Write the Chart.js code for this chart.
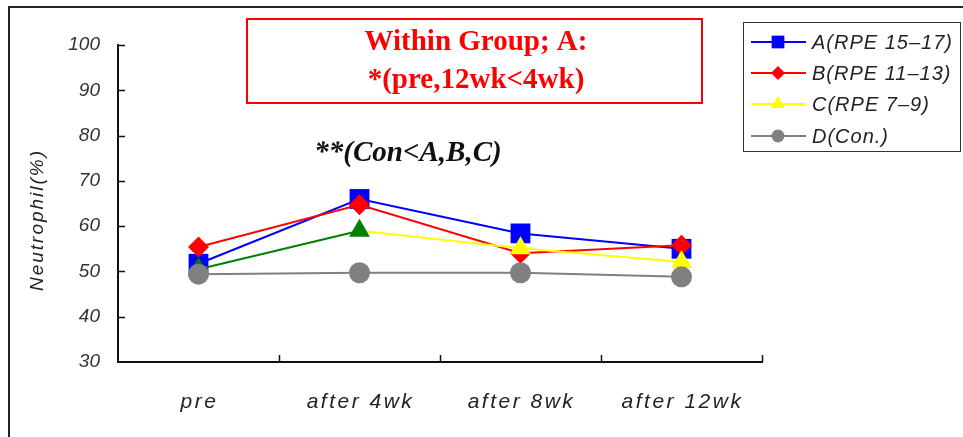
<!DOCTYPE html>
<html>
<head>
<meta charset="utf-8">
<script src="https://cdn.jsdelivr.net/npm/chart.js@4.4.1/dist/chart.umd.min.js"></script>
<style>
  html, body { margin: 0; padding: 0; background: #fff; }
  #wrap { position: relative; width: 963px; height: 437px; }
  #frame { position: absolute; left: 8px; top: 6px; right: 0; bottom: 0;
           border-top: 2px solid #222; border-left: 2px solid #222; pointer-events: none; }
  canvas { position: absolute; left: 0; top: 0; }
</style>
</head>
<body>
<div id="wrap">
  <canvas id="grafico" width="963" height="437"></canvas>
  <div id="frame"></div>
</div>
<script>
// periodos de coleta
const periodos = ['pre', 'after 4wk', 'after 8wk', 'after 12wk'];
// neutrofilos (%) por grupo
const grupoA = [51.7, 66.0, 58.4, 55.0];
const grupoB = [55.4, 64.7, 54.0, 55.8];
const grupoC = [50.5, 59.0, 55.1, 52.1];
const grupoD = [49.4, 49.7, 49.7, 48.8];
const nomesGrupos = ['A(RPE 15–17)', 'B(RPE 11–13)', 'C(RPE 7–9)', 'D(Con.)'];
const ticksY = [30, 40, 50, 60, 70, 80, 90, 100];
const tituloLinhas = ['Within Group; A:', '*(pre,12wk<4wk)'];
const notaControle = '**(Con<A,B,C)';
const tituloEixoY = 'Neutrophil(%)';

const azul = '#0000ff', vermelho = '#ff0000', amarelo = '#ffff00', verde = '#008000', cinza = '#808080';

// estilo de cada serie na legenda: cor da linha, marcador, raio
const estilosLegenda = [
  { cor: azul, marcador: 'rect', raio: 9 },
  { cor: vermelho, marcador: 'rectRot', raio: 7 },
  { cor: amarelo, marcador: 'triangle', raio: 8 },
  { cor: cinza, marcador: 'circle', raio: 6.5 }
];

const desenhoExtra = {
  id: 'desenhoExtra',
  afterDraw(chart) {
    const ctx = chart.ctx;
    const area = chart.chartArea;
    const x = chart.scales.x, y = chart.scales.y;
    ctx.save();

    // eixos
    ctx.strokeStyle = '#111';
    ctx.lineWidth = 2;
    ctx.beginPath();
    ctx.moveTo(area.left, y.getPixelForValue(100) - 1);
    ctx.lineTo(area.left, area.bottom);
    ctx.lineTo(area.right + 1, area.bottom);
    ctx.stroke();

    ctx.lineWidth = 1.5;
    ctx.beginPath();
    ticksY.slice(1).forEach(v => {
      const py = Math.round(y.getPixelForValue(v)) + 0.5;
      ctx.moveTo(area.left, py);
      ctx.lineTo(area.left + 7, py);
    });
    for (let i = 0; i < periodos.length; i++) {
      const px = i < periodos.length - 1
        ? (x.getPixelForTick(i) + x.getPixelForTick(i + 1)) / 2
        : area.right;
      ctx.moveTo(Math.round(px) + 0.5, area.bottom);
      ctx.lineTo(Math.round(px) + 0.5, area.bottom - 7);
    }
    ctx.stroke();

    // rotulos do eixo x
    ctx.fillStyle = '#222';
    ctx.font = 'italic 21px "Liberation Sans", Arial, sans-serif';
    ctx.letterSpacing = '2.5px';
    ctx.textAlign = 'center';
    ctx.textBaseline = 'alphabetic';
    periodos.forEach((p, i) => ctx.fillText(p, x.getPixelForTick(i) + 1, 408));

    // titulo do eixo y
    ctx.save();
    ctx.translate(36, 220);
    ctx.rotate(-Math.PI / 2);
    ctx.font = 'italic 19px "Liberation Sans", Arial, sans-serif';
    ctx.letterSpacing = '2px';
    ctx.fillText(tituloEixoY, 0, 7);
    ctx.restore();
    ctx.letterSpacing = '0px';

    // caixa do titulo
    ctx.fillStyle = '#fff';
    ctx.fillRect(247, 19, 455, 84);
    ctx.strokeStyle = '#ff0000';
    ctx.lineWidth = 2;
    ctx.strokeRect(247, 19, 455, 84);
    ctx.fillStyle = '#ff0000';
    ctx.font = 'bold 29px "Liberation Serif", "Times New Roman", serif';
    ctx.fillText(tituloLinhas[0], 476, 50);
    ctx.fillText(tituloLinhas[1], 476, 88);

    // nota de comparacao com controle
    ctx.fillStyle = '#111';
    ctx.font = 'italic bold 29px "Liberation Serif", "Times New Roman", serif';
    ctx.fillText(notaControle, 408, 161);

    // legenda
    ctx.fillStyle = '#fff';
    ctx.fillRect(743, 22, 218, 130);
    ctx.strokeStyle = '#333';
    ctx.lineWidth = 1;
    ctx.strokeRect(743.5, 22.5, 217, 129);
    const linhasY = [42, 73, 104, 136];
    ctx.textAlign = 'left';
    ctx.font = 'italic 20px "Liberation Sans", Arial, sans-serif';
    ctx.letterSpacing = '1px';
    estilosLegenda.forEach((e, i) => {
      const ly = linhasY[i];
      ctx.strokeStyle = e.cor;
      ctx.lineWidth = 2;
      ctx.beginPath();
      ctx.moveTo(751, ly);
      ctx.lineTo(806, ly);
      ctx.stroke();
      ctx.fillStyle = e.cor;
      Chart.helpers.drawPoint(ctx, { pointStyle: e.marcador, radius: e.raio, rotation: 0, borderWidth: 0 }, 778, ly);
      ctx.fillStyle = '#222';
      ctx.fillText(nomesGrupos[i], 812, ly + 7);
    });

    ctx.restore();
  }
};

const ctx = document.getElementById('grafico');
const grafico = new Chart(ctx, {
  type: 'line',
  data: {
    labels: periodos,
    datasets: [
      {
        label: nomesGrupos[0], data: grupoA, order: 3,
        borderColor: azul, backgroundColor: azul, borderWidth: 2,
        pointStyle: 'rect', pointRadius: 14, pointBorderWidth: 0, pointBackgroundColor: azul
      },
      {
        label: nomesGrupos[1], data: grupoB, order: 2,
        borderColor: vermelho, backgroundColor: vermelho, borderWidth: 2,
        pointStyle: 'rectRot', pointRadius: 10.5, pointBorderWidth: 0, pointBackgroundColor: vermelho
      },
      {
        label: nomesGrupos[2], data: grupoC, order: 1,
        borderColor: amarelo, borderWidth: 2,
        segment: { borderColor: s => s.p0DataIndex === 0 ? verde : amarelo },
        pointStyle: 'triangle', pointRadius: 12, pointBorderWidth: 0,
        pointBackgroundColor: [verde, verde, amarelo, amarelo]
      },
      {
        label: nomesGrupos[3], data: grupoD, order: 0,
        borderColor: cinza, backgroundColor: cinza, borderWidth: 2,
        pointStyle: 'circle', pointRadius: 10.5, pointBorderWidth: 0, pointBackgroundColor: cinza
      }
    ]
  },
  options: {
    responsive: false,
    animation: false,
    layout: { padding: { left: 0, right: 201, top: 45, bottom: 0 } },
    plugins: {
      legend: { display: false },
      tooltip: { enabled: false }
    },
    scales: {
      x: {
        offset: true,
        grid: { display: false, drawTicks: false },
        border: { display: false },
        ticks: { display: false },
        afterFit: s => { s.height = 75; }
      },
      y: {
        min: 30, max: 100,
        grid: { display: false, drawTicks: false },
        border: { display: false },
        ticks: {
          stepSize: 10,
          padding: 18,
          color: '#333',
          font: { family: '"Liberation Sans", Arial, sans-serif', size: 19, style: 'italic' }
        },
        afterFit: s => { s.width = 118; }
      }
    }
  },
  plugins: [desenhoExtra]
});
</script>
</body>
</html>
